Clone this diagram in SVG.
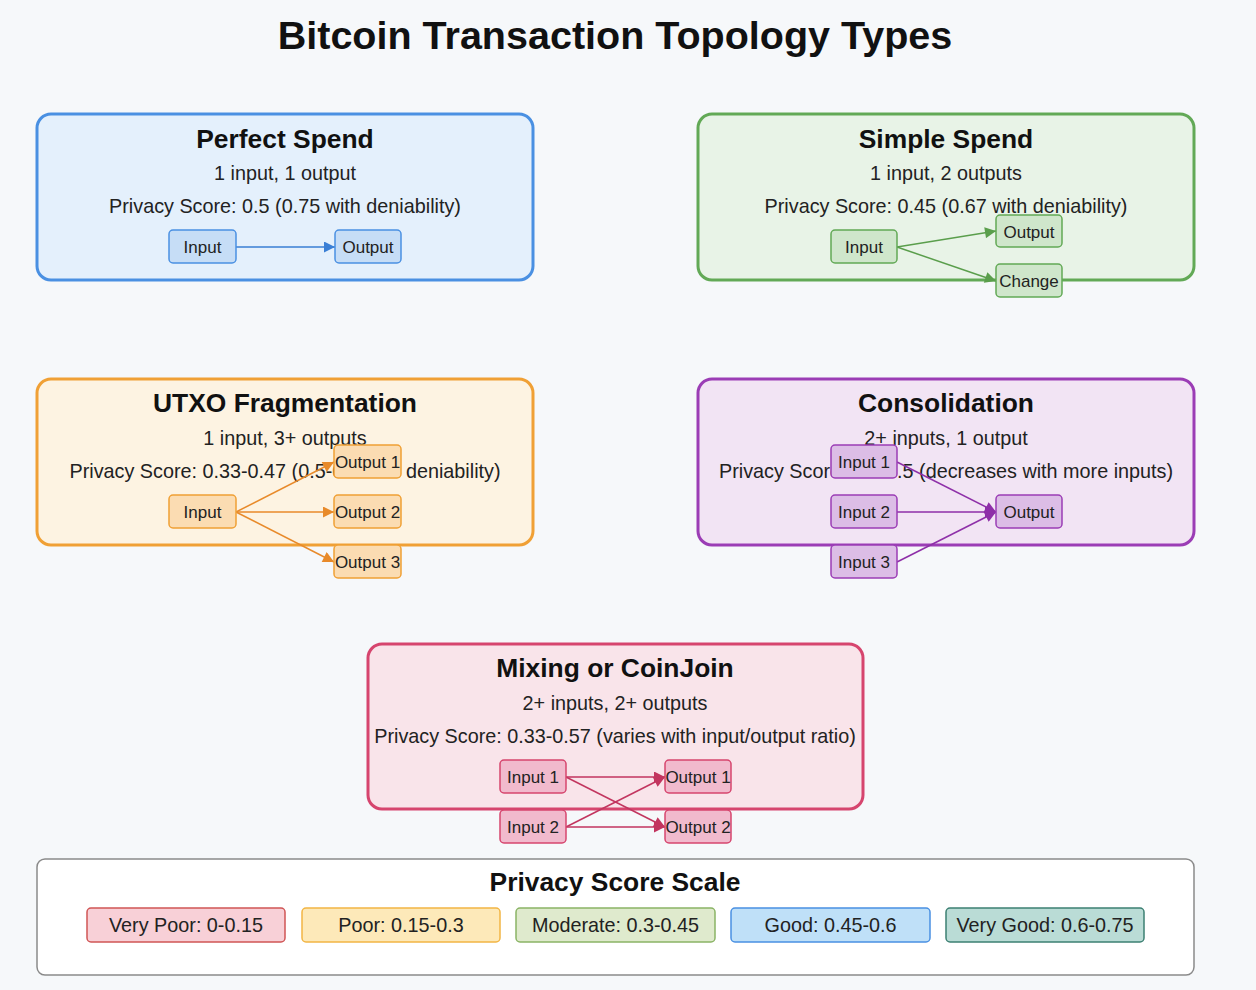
<svg xmlns="http://www.w3.org/2000/svg" width="1256" height="990" viewBox="0 0 1256 990">
<style>
text{font-family:"Liberation Sans",Arial,sans-serif;fill:#111;}
.t{font-size:39.5px;font-weight:bold;text-anchor:middle;}
.h{font-size:26.4px;font-weight:bold;text-anchor:middle;}
.s{font-size:19.8px;text-anchor:middle;fill:#222;}
.n{font-size:17px;text-anchor:middle;fill:#222;}
.lg{font-size:19.8px;text-anchor:middle;fill:#222;}
.box{stroke-width:3;}
.nd{stroke-width:1.5;}
.c{fill:none;stroke-width:1.5;}
</style>
<defs>
<marker id="aB" viewBox="0 0 10 10" refX="10" refY="5" markerWidth="14" markerHeight="11" markerUnits="userSpaceOnUse" orient="auto"><path d="M0,0L10,5L0,10z" fill="#3a7fd5"/></marker>
<marker id="aG" viewBox="0 0 10 10" refX="10" refY="5" markerWidth="14" markerHeight="11" markerUnits="userSpaceOnUse" orient="auto"><path d="M0,0L10,5L0,10z" fill="#5a9e4c"/></marker>
<marker id="aO" viewBox="0 0 10 10" refX="10" refY="5" markerWidth="14" markerHeight="11" markerUnits="userSpaceOnUse" orient="auto"><path d="M0,0L10,5L0,10z" fill="#e88a2a"/></marker>
<marker id="aP" viewBox="0 0 10 10" refX="10" refY="5" markerWidth="14" markerHeight="11" markerUnits="userSpaceOnUse" orient="auto"><path d="M0,0L10,5L0,10z" fill="#8e2fa8"/></marker>
<marker id="aR" viewBox="0 0 10 10" refX="10" refY="5" markerWidth="14" markerHeight="11" markerUnits="userSpaceOnUse" orient="auto"><path d="M0,0L10,5L0,10z" fill="#c2355f"/></marker>
</defs>
<rect width="1256" height="990" fill="#f6f8fa"/>
<text class="t" x="615" y="49">Bitcoin Transaction Topology Types</text>

<!-- group boxes -->
<g id="perfect-spend">
<rect class="box" x="37" y="114" width="496" height="166" rx="14" fill="#e4f0fc" stroke="#4a90e2"/>
<text class="h" x="285" y="148">Perfect Spend</text>
<text class="s" x="285" y="180">1 input, 1 output</text>
<text class="s" x="285" y="213">Privacy Score: 0.5 (0.75 with deniability)</text>
</g>
<g id="simple-spend">
<rect class="box" x="698" y="114" width="496" height="166" rx="14" fill="#e8f3e7" stroke="#62a956"/>
<text class="h" x="946" y="148">Simple Spend</text>
<text class="s" x="946" y="180">1 input, 2 outputs</text>
<text class="s" x="946" y="213">Privacy Score: 0.45 (0.67 with deniability)</text>
</g>
<g id="utxo-fragmentation">
<rect class="box" x="37" y="379" width="496" height="166" rx="14" fill="#fdf3e2" stroke="#f0a035"/>
<text class="h" x="285" y="412">UTXO Fragmentation</text>
<text class="s" x="285" y="445">1 input, 3+ outputs</text>
<text class="s" x="285" y="478">Privacy Score: 0.33-0.47 (0.5-0.7 with deniability)</text>
</g>
<g id="consolidation">
<rect class="box" x="698" y="379" width="496" height="166" rx="14" fill="#f2e4f4" stroke="#9b3db5"/>
<text class="h" x="946" y="412">Consolidation</text>
<text class="s" x="946" y="445">2+ inputs, 1 output</text>
<text class="s" x="946" y="478">Privacy Score: 0.2-0.5 (decreases with more inputs)</text>
</g>
<g id="mixing-coinjoin">
<rect class="box" x="368" y="644" width="495" height="165" rx="14" fill="#f9e4ea" stroke="#d6456e"/>
<text class="h" x="615" y="677">Mixing or CoinJoin</text>
<text class="s" x="615" y="710">2+ inputs, 2+ outputs</text>
<text class="s" x="615" y="743">Privacy Score: 0.33-0.57 (varies with input/output ratio)</text>
</g>

<!-- connectors -->
<g id="connectors">
<line class="c" stroke="#3a7fd5" x1="236" y1="247" x2="335" y2="247" marker-end="url(#aB)"/>
<line class="c" stroke="#5a9e4c" x1="897" y1="247" x2="996" y2="231" marker-end="url(#aG)"/>
<line class="c" stroke="#5a9e4c" x1="897" y1="247" x2="996" y2="281" marker-end="url(#aG)"/>
<line class="c" stroke="#e88a2a" x1="236" y1="512" x2="334" y2="462" marker-end="url(#aO)"/>
<line class="c" stroke="#e88a2a" x1="236" y1="512" x2="334" y2="512" marker-end="url(#aO)"/>
<line class="c" stroke="#e88a2a" x1="236" y1="512" x2="334" y2="562" marker-end="url(#aO)"/>
<line class="c" stroke="#8e2fa8" x1="897" y1="462" x2="996" y2="512" marker-end="url(#aP)"/>
<line class="c" stroke="#8e2fa8" x1="897" y1="512" x2="996" y2="512" marker-end="url(#aP)"/>
<line class="c" stroke="#8e2fa8" x1="897" y1="562" x2="996" y2="512" marker-end="url(#aP)"/>
<line class="c" stroke="#c2355f" x1="566" y1="777" x2="665" y2="777" marker-end="url(#aR)"/>
<line class="c" stroke="#c2355f" x1="566" y1="777" x2="665" y2="827" marker-end="url(#aR)"/>
<line class="c" stroke="#c2355f" x1="566" y1="827" x2="665" y2="777" marker-end="url(#aR)"/>
<line class="c" stroke="#c2355f" x1="566" y1="827" x2="665" y2="827" marker-end="url(#aR)"/>
</g>

<!-- nodes -->
<g id="ps-input"><rect class="nd" x="169" y="230" width="67" height="33" rx="4" fill="#c6ddf6" stroke="#4a90e2"/><text class="n" x="202.5" y="253">Input</text></g>
<g id="ps-output"><rect class="nd" x="335" y="230" width="66" height="33" rx="4" fill="#c6ddf6" stroke="#4a90e2"/><text class="n" x="368" y="253">Output</text></g>

<g id="ss-input"><rect class="nd" x="831" y="230" width="66" height="33" rx="4" fill="#cfe6cb" stroke="#62a956"/><text class="n" x="864" y="253">Input</text></g>
<g id="ss-output"><rect class="nd" x="996" y="215" width="66" height="32" rx="4" fill="#cfe6cb" stroke="#62a956"/><text class="n" x="1029" y="237.5">Output</text></g>
<g id="ss-change"><rect class="nd" x="996" y="264" width="66" height="33" rx="4" fill="#cfe6cb" stroke="#62a956"/><text class="n" x="1029" y="287">Change</text></g>

<g id="uf-input"><rect class="nd" x="169" y="495" width="67" height="33" rx="4" fill="#fbdcb2" stroke="#f0a035"/><text class="n" x="202.5" y="518">Input</text></g>
<g id="uf-output1"><rect class="nd" x="334" y="445" width="67" height="33" rx="4" fill="#fbdcb2" stroke="#f0a035"/><text class="n" x="367.5" y="468">Output 1</text></g>
<g id="uf-output2"><rect class="nd" x="334" y="495" width="67" height="33" rx="4" fill="#fbdcb2" stroke="#f0a035"/><text class="n" x="367.5" y="518">Output 2</text></g>
<g id="uf-output3"><rect class="nd" x="334" y="545" width="67" height="33" rx="4" fill="#fbdcb2" stroke="#f0a035"/><text class="n" x="367.5" y="568">Output 3</text></g>

<g id="co-input1"><rect class="nd" x="831" y="445" width="66" height="33" rx="4" fill="#dcbde6" stroke="#9b3db5"/><text class="n" x="864" y="468">Input 1</text></g>
<g id="co-input2"><rect class="nd" x="831" y="495" width="66" height="33" rx="4" fill="#dcbde6" stroke="#9b3db5"/><text class="n" x="864" y="518">Input 2</text></g>
<g id="co-input3"><rect class="nd" x="831" y="545" width="66" height="33" rx="4" fill="#dcbde6" stroke="#9b3db5"/><text class="n" x="864" y="568">Input 3</text></g>
<g id="co-output"><rect class="nd" x="996" y="495" width="66" height="33" rx="4" fill="#dcbde6" stroke="#9b3db5"/><text class="n" x="1029" y="518">Output</text></g>

<g id="mx-input1"><rect class="nd" x="500" y="760" width="66" height="33" rx="4" fill="#f1bacd" stroke="#d6456e"/><text class="n" x="533" y="783">Input 1</text></g>
<g id="mx-input2"><rect class="nd" x="500" y="810" width="66" height="33" rx="4" fill="#f1bacd" stroke="#d6456e"/><text class="n" x="533" y="833">Input 2</text></g>
<g id="mx-output1"><rect class="nd" x="665" y="760" width="66" height="33" rx="4" fill="#f1bacd" stroke="#d6456e"/><text class="n" x="698" y="783">Output 1</text></g>
<g id="mx-output2"><rect class="nd" x="665" y="810" width="66" height="33" rx="4" fill="#f1bacd" stroke="#d6456e"/><text class="n" x="698" y="833">Output 2</text></g>

<!-- legend -->
<g id="privacy-scale">
<rect x="37" y="859" width="1157" height="116" rx="8" fill="#ffffff" stroke="#8a8a8a" stroke-width="1.5"/>
<text class="h" x="615" y="891">Privacy Score Scale</text>
<g id="lg-very-poor"><rect x="87" y="908" width="198" height="34" rx="4" fill="#f8d0d7" stroke="#d05555" stroke-width="1.5"/><text class="lg" x="186" y="932">Very Poor: 0-0.15</text></g>
<g id="lg-poor"><rect x="302" y="908" width="198" height="34" rx="4" fill="#fde9b9" stroke="#f2b544" stroke-width="1.5"/><text class="lg" x="401" y="932">Poor: 0.15-0.3</text></g>
<g id="lg-moderate"><rect x="516" y="908" width="199" height="34" rx="4" fill="#dfeacd" stroke="#8ab465" stroke-width="1.5"/><text class="lg" x="615.5" y="932">Moderate: 0.3-0.45</text></g>
<g id="lg-good"><rect x="731" y="908" width="199" height="34" rx="4" fill="#bfe0f8" stroke="#4a90e2" stroke-width="1.5"/><text class="lg" x="830.5" y="932">Good: 0.45-0.6</text></g>
<g id="lg-very-good"><rect x="946" y="908" width="198" height="34" rx="4" fill="#badcd6" stroke="#3d8073" stroke-width="1.5"/><text class="lg" x="1045" y="932">Very Good: 0.6-0.75</text></g>
</g>
</svg>
